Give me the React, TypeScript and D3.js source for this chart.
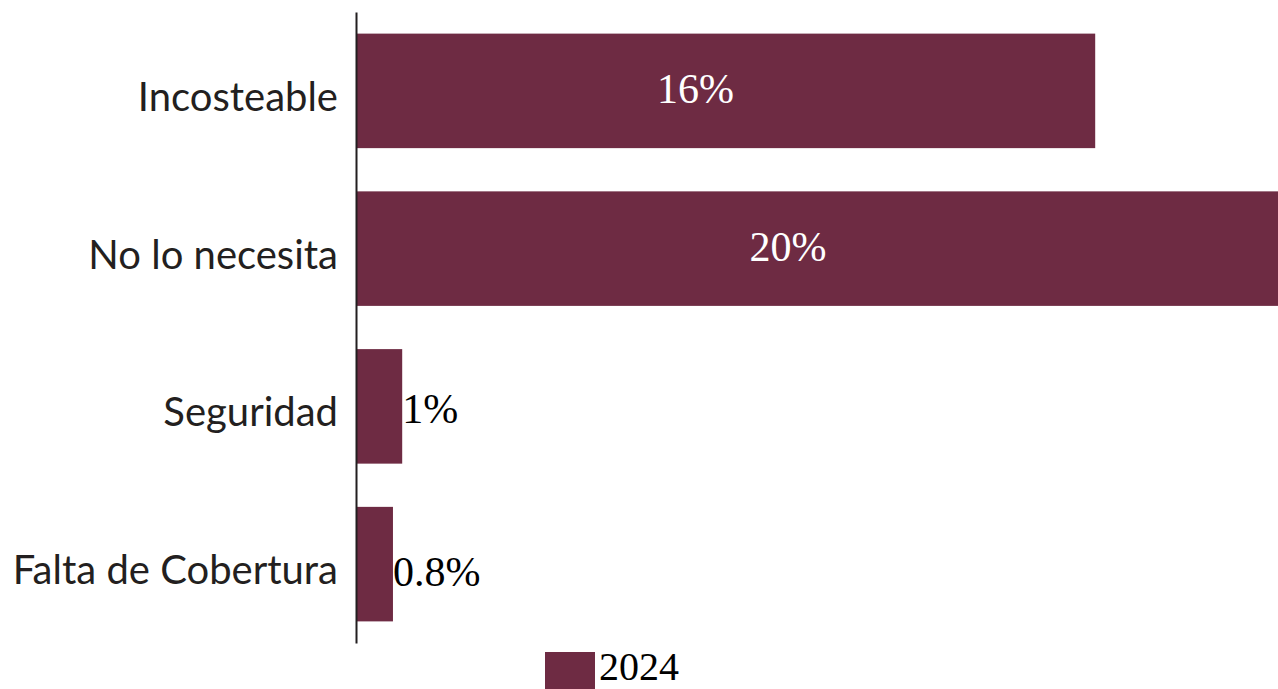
import { useEffect, useRef } from "react";
import * as d3 from "d3";

// chart data
const categories = ["Incosteable", "No lo necesita", "Seguridad", "Falta de Cobertura"];
const values2024 = [16, 20, 1, 0.8];
const valueLabels = ["16%", "20%", "1%", "0.8%"];
const seriesName = "2024";

const W = 1278;
const H = 689;
const BAR = "#6e2b43";

const App = () => {
  const svgRef = useRef<SVGSVGElement | null>(null);

  useEffect(() => {
    const svg = d3.select(svgRef.current);
    svg.selectAll("*").remove();

    const x = d3.scaleLinear().domain([0, 20]).range([356, 1280]);
    const y = d3
      .scaleBand()
      .domain(categories)
      .range([12, 643])
      .paddingInner(0.274)
      .paddingOuter(0.137);

    const data = categories.map((c, i) => ({ c, v: values2024[i], label: valueLabels[i] }));

    // bars
    svg
      .selectAll(".bar")
      .data(data)
      .join("rect")
      .attr("x", x(0))
      .attr("y", (d: any) => y(d.c))
      .attr("width", (d: any) => x(d.v) - x(0))
      .attr("height", y.bandwidth())
      .attr("fill", BAR);

    // axis line (no ticks)
    const yAxis = d3.axisLeft(y).tickSize(0).tickPadding(18);
    const g = svg.append("g").attr("transform", `translate(${x(0)},0)`).call(yAxis);
    g.select(".domain").attr("stroke", "#231f20").attr("stroke-width", 2);
    g.selectAll("text")
      .attr("font-family", "Lato, 'Noto Sans', sans-serif")
      .attr("font-size", 40)
      .attr("fill", "#231f20")
      .attr("dy", "0.5em");

    // value labels: inside (white) for long bars, outside (black) for short
    svg
      .selectAll(".val")
      .data(data)
      .join("text")
      .attr("x", (d: any) => (d.v > 5 ? (x(0) + x(d.v)) / 2 - 30 : x(d.v)))
      .attr("y", (d: any) => y(d.c)! + y.bandwidth() / 2 + (d.v > 5 ? 12 : d.v < 1 ? 22 : 17))
      .attr("text-anchor", (d: any) => (d.v > 5 ? "middle" : "start"))
      .attr("font-family", "'Liberation Serif', 'DejaVu Serif', serif")
      .attr("font-size", 42)
      .attr("fill", (d: any) => (d.v > 5 ? "#ffffff" : "#000000"))
      .text((d: any) => d.label);

    // legend
    svg
      .append("rect")
      .attr("x", 545)
      .attr("y", 652)
      .attr("width", 50)
      .attr("height", 37)
      .attr("fill", BAR);
    svg
      .append("text")
      .attr("x", 599)
      .attr("y", 680)
      .attr("font-family", "'Liberation Serif', 'DejaVu Serif', serif")
      .attr("font-size", 40)
      .attr("fill", "#000")
      .text(seriesName);
  }, []);

  return (
    <svg
      ref={svgRef}
      width={W}
      height={H}
      style={{ position: "absolute", left: 0, top: 0, background: "#fff", overflow: "hidden" }}
    />
  );
};

export default App;
